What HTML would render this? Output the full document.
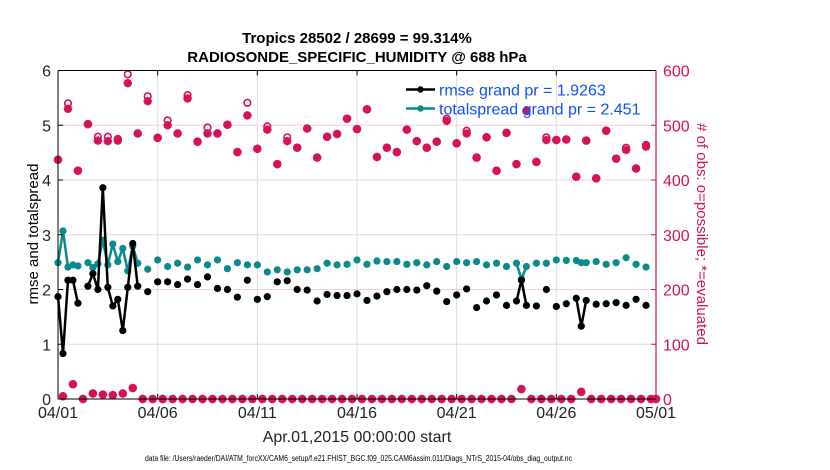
<!DOCTYPE html>
<html><head><meta charset="utf-8"><style>
body{margin:0;background:#fff;}
svg{display:block;font-family:"Liberation Sans",Arial,sans-serif;}
</style></head><body>
<svg id="chart" width="830" height="470" viewBox="0 0 830 470" xmlns="http://www.w3.org/2000/svg">
<g id="grid"></g>
<g id="plot"></g>
<g id="axes"></g>
<text x="357" y="43" text-anchor="middle" font-size="15" font-weight="bold">Tropics 28502 / 28699 = 99.314%</text>
<text x="357" y="62" text-anchor="middle" font-size="15" font-weight="bold">RADIOSONDE_SPECIFIC_HUMIDITY @ 688 hPa</text>
<text transform="translate(38,234) rotate(-90)" text-anchor="middle" font-size="15">rmse and totalspread</text>
<text transform="translate(697,234) rotate(90)" text-anchor="middle" font-size="15" fill="#d6105a"># of obs: o=possible; *=evaluated</text>
<text x="357" y="442" text-anchor="middle" font-size="16" fill="#222">Apr.01,2015 00:00:00 start</text>
<text x="145" y="461" font-size="8" textLength="427" lengthAdjust="spacingAndGlyphs" fill="#000">data file: /Users/raeder/DAI/ATM_forcXX/CAM6_setup/f.e21.FHIST_BGC.f09_025.CAM6assim.011/Diags_NTrS_2015-04/obs_diag_output.nc</text>
<g>
<line x1="406" y1="89.5" x2="435" y2="89.5" stroke="#000" stroke-width="2.5"/>
<circle cx="420.5" cy="89.5" r="3.2" fill="#000"/>
<text x="439" y="95.5" font-size="16" fill="#1050ff">rmse grand pr = 1.9263</text>
<line x1="406" y1="108.5" x2="435" y2="108.5" stroke="#0a8a8a" stroke-width="2.5"/>
<circle cx="420.5" cy="108.5" r="3.2" fill="#0a8a8a"/>
<text x="439" y="114.5" font-size="16" fill="#1050ff">totalspread grand pr = 2.451</text>
</g>
</svg>
<script>
const xTickLabels = ["04/01","04/06","04/11","04/16","04/21","04/26","05/01"];
const xTickDays = [0,5,10,15,20,25,30];
const leftTicks = [0,1,2,3,4,5,6];
const rightTicks = [0,100,200,300,400,500,600];
const metricDays = [0,0.25,0.5,0.75,1.0,1.5,1.75,2.0,2.25,2.5,2.75,3.0,3.25,3.5,3.75,4.0,
 4.5,5,5.5,6,6.5,7,7.5,8,8.5,9,9.5,10,10.5,11,11.5,12,12.5,13,13.5,14,
 14.5,15,15.5,16,16.5,17,17.5,18,18.5,19,19.5,20,20.5,21,21.5,22,22.5,23,23.25,
 23.5,24,24.5,25,25.5,26,26.25,26.5,27,27.5,28,28.5,29,29.5];
const rmse = [1.87,0.83,2.17,2.17,1.75,2.06,2.29,2.0,3.86,2.04,1.70,1.82,1.25,2.04,2.84,2.06,
 1.96,2.14,2.14,2.09,2.19,2.09,2.23,2.02,2.0,1.86,2.17,1.82,1.87,2.14,2.16,2.0,1.99,1.79,1.91,1.89,
 1.89,1.92,1.80,1.88,1.96,2.0,2.0,1.99,2.07,1.97,1.78,1.90,2.01,1.67,1.79,1.90,1.71,1.79,2.17,
 1.71,1.70,2.0,1.69,1.74,1.84,1.33,1.80,1.73,1.74,1.76,1.71,1.82,1.71];
const spread = [2.49,3.07,2.41,2.45,2.43,2.49,2.40,2.47,2.90,2.45,2.83,2.51,2.75,2.34,2.79,2.48,
 2.37,2.54,2.42,2.48,2.41,2.54,2.45,2.54,2.38,2.49,2.45,2.45,2.32,2.36,2.32,2.36,2.36,2.38,2.48,2.45,
 2.46,2.54,2.46,2.52,2.51,2.51,2.46,2.49,2.45,2.51,2.42,2.51,2.49,2.51,2.45,2.48,2.42,2.48,2.19,
 2.42,2.48,2.48,2.54,2.53,2.53,2.49,2.49,2.51,2.46,2.49,2.58,2.46,2.41];
// obs counts at 00Z/12Z (days 0,0.5,...,29.5)
const obsMainStart = 0;
const possibleMain = [437,540,417,502,479,479,475,593,485,553,477,509,485,555,470,496,485,501,451,541,457,498,429,478,459,494,441,479,484,512,493,529,442,459,451,492,471,459,470,512,467,490,441,478,417,486,429,526,433,478,473,474,406,472,403,490,439,459,421,464];
const evaluatedMain = [437,530,417,502,472,471,472,577,485,544,477,500,485,549,470,485,485,501,451,518,457,492,429,471,459,494,441,479,484,512,493,529,442,459,451,492,471,459,470,508,467,485,441,478,417,486,429,526,433,473,473,474,406,472,403,490,439,455,421,461];
// obs counts at 06Z/18Z
const obsOffDays = [0.25,0.75,1.25,1.75,2.25,2.75,3.25,3.75,4.25,4.75,5.25,5.75,6.25,6.75,7.25,7.75,8.25,8.75,9.25,9.75,10.25,10.75,11.25,11.75,12.25,12.75,13.25,13.75,14.25,14.75,15.25,15.75,16.25,16.75,17.25,17.75,18.25,18.75,19.25,19.75,20.25,20.75,21.25,21.75,22.25,22.75,23.25,23.75,24.25,24.75,25.25,25.75,26.25,26.75,27.25,27.75,28.25,28.75,29.25,29.75,30];
const obsOff = [5,27,0,10,8,7,10,20,0,0,0,0,0,0,0,0,0,0,0,0,0,0,0,0,0,0,0,0,0,0,0,0,0,0,0,0,0,0,0,0,0,0,0,0,0,0,18,0,0,0,0,0,13,0,0,0,0,0,0,0,0];

const X0=58, X1=656, Y0=399, Y1=70.5;
const xs = d => X0 + d*(X1-X0)/30;
const yl = v => Y0 - v*(Y0-Y1)/6;
const yr = v => Y0 - v*(Y0-Y1)/600;
const NS="http://www.w3.org/2000/svg";
function mk(parent, tag, attrs){const e=document.createElementNS(NS,tag);for(const k in attrs)e.setAttribute(k,attrs[k]);parent.appendChild(e);return e;}
const grid=document.getElementById('grid'), plot=document.getElementById('plot'), axes=document.getElementById('axes');
const RED="#d6105a", TEAL="#0a8a8a";

xTickDays.forEach((d,i)=>{
  const g=mk(grid,'line',{x1:xs(d),y1:Y1,x2:xs(d),y2:Y0,stroke:'#dcdcdc','stroke-width':1});
  
  
  const t1=mk(axes,'line',{x1:xs(d),y1:Y0,x2:xs(d),y2:Y0-5,stroke:'#000'});
  
  
  const t2=mk(axes,'line',{x1:xs(d),y1:Y1,x2:xs(d),y2:Y1+5,stroke:'#000'});
  
  
  const lb=mk(axes,'text',{x:xs(d),y:Y0+19,'text-anchor':'middle','font-size':16,fill:'#222'});
  lb.textContent=xTickLabels[i];
  
  
});
rightTicks.forEach(v=>{
  if(v>0&&v<600){const g=mk(grid,'line',{x1:X0,y1:yr(v),x2:X1,y2:yr(v),stroke:'#f6cfdc','stroke-width':1});
  
  }
  const t=mk(axes,'line',{x1:X1,y1:yr(v),x2:X1-5,y2:yr(v),stroke:RED});
  
  
  const lb=mk(axes,'text',{x:X1+7,y:yr(v)+6,'font-size':16,fill:RED});
  lb.textContent=String(v);
  
  
});
leftTicks.forEach(v=>{
  const t=mk(axes,'line',{x1:X0,y1:yl(v),x2:X0+5,y2:yl(v),stroke:'#000'});
  
  
  const lb=mk(axes,'text',{x:X0-7,y:yl(v)+6,'text-anchor':'end','font-size':16,fill:'#222'});
  lb.textContent=String(v);
  
  
});
const bl=mk(axes,'path',{d:`M${X0},${Y1} V${Y0} H${X1}`,fill:'none',stroke:'#000','stroke-width':1});


const tp=mk(axes,'line',{x1:X0,y1:Y1,x2:X1,y2:Y1,stroke:'#000'});


const ra=mk(axes,'line',{x1:X1,y1:Y1,x2:X1,y2:Y0,stroke:RED,'stroke-width':1.2});



function star(cx,cy){
  const g=mk(plot,'g',{});
  
  
  const r=4.2;
  for(let a=0;a<180;a+=45){const rad=a*Math.PI/180;
    mk(g,'line',{x1:cx-r*Math.cos(rad),y1:cy-r*Math.sin(rad),x2:cx+r*Math.cos(rad),y2:cy+r*Math.sin(rad),stroke:RED,'stroke-width':2.6});}
  mk(g,'circle',{cx:cx,cy:cy,r:2.6,fill:RED});
}
function ring(cx,cy){
  const c=mk(plot,'circle',{cx:cx,cy:cy,r:3.3,fill:'none',stroke:RED,'stroke-width':1.6});
  
  
}
possibleMain.forEach((v,i)=>{ring(xs(obsMainStart+i*0.5),yr(v));});
evaluatedMain.forEach((v,i)=>{star(xs(obsMainStart+i*0.5),yr(v));});
obsOff.forEach((v,i)=>{ring(xs(obsOffDays[i]),yr(v));star(xs(obsOffDays[i]),yr(v));});

function series(vals,color,name){
  let d='';
  vals.forEach((v,i)=>{
    const cmd=(i>0 && metricDays[i]-metricDays[i-1]<=0.26)?'L':'M';
    d+=cmd+xs(metricDays[i]).toFixed(1)+','+yl(v).toFixed(1)+' ';
  });
  const p=mk(plot,'path',{d:d,fill:'none',stroke:color,'stroke-width':2.5,'stroke-linejoin':'round'});
  
  
  vals.forEach((v,i)=>{
    const c=mk(plot,'circle',{cx:xs(metricDays[i]),cy:yl(v),r:3.6,fill:color});
    
    
  });
}
series(spread,TEAL,'totalspread');
series(rmse,'#000','rmse');
</script>
</body></html>
